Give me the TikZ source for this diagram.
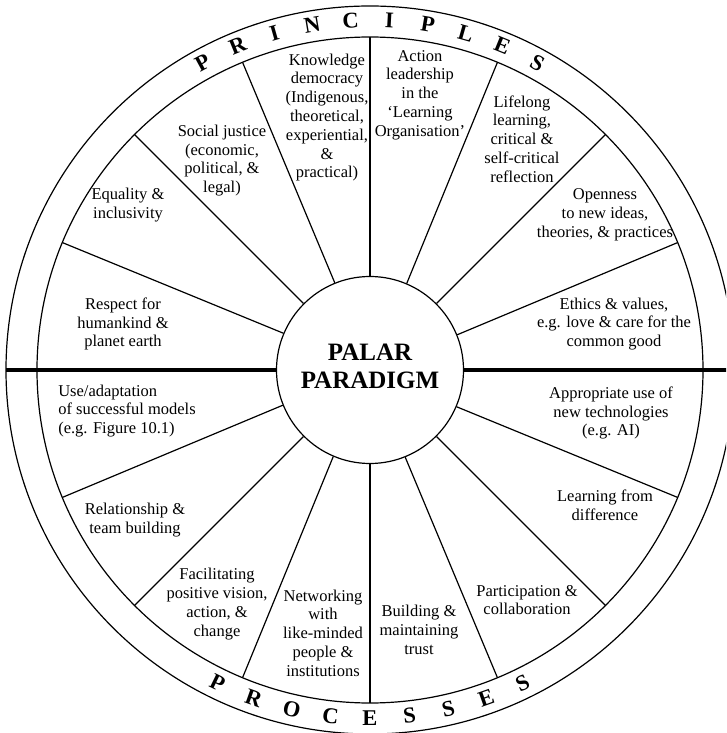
\documentclass[tikz,border=0pt]{standalone}
\usepackage{fontspec}
\setmainfont{Liberation Serif}
\begin{document}
\begin{tikzpicture}[x=1pt,y=1pt,
  feld/.style={align=center,inner sep=0pt,font=\fontsize{16.5}{18.8}\selectfont},
  ringtext/.style={inner sep=0pt,font=\fontsize{22.5}{22.5}\selectfont\bfseries},
  titel/.style={align=center,inner sep=0pt,font=\fontsize{25}{28}\selectfont\bfseries}]
  \clip (-370,-363) rectangle (356,370);
  % Kreise
  \draw[line width=1.2] (0,0) circle (364);
  \draw[line width=1.2] (0,0) circle (333);
  \node[circle,draw,line width=1.2,minimum size=187,inner sep=0pt] (mitte) at (0,0) {};
  \node[titel] (paradigma) at (0,4) {PALAR\\PARADIGM};
  % Speichen
  \foreach \w in {22.5,45,67.5,90,112.5,135,157.5,202.5,225,247.5,270,292.5,315,337.5}
    \draw[line width=1.2] (mitte.\w) -- (\w:333);
  % Trennlinie
  \draw[line width=4] (mitte.west) -- (180:364);
  \draw[line width=4] (mitte.east) -- (0:364);
  % Ring: Prinzipien und Prozesse
  \foreach \b [count=\i] in {P,R,I,N,C,I,P,L,E,S}
    \node[ringtext,rotate={(5.5-\i)*6.35}] (oben\i) at ({90+(5.5-\i)*6.35}:350) {\b};
  \foreach \b [count=\i] in {P,R,O,C,E,S,S,E,S}
    \node[ringtext,rotate={(\i-5)*6.5}] (unten\i) at ({270+(\i-5)*6.5}:348) {\b};
  % Prinzipien
  \node[feld] (respekt) at (-247,46) {Respect for\\humankind \&\\planet earth};
  \node[feld] (gleichheit) at (-242,165) {Equality \&\\inclusivity};
  \node[feld] (gerechtigkeit) at (-148,209.5) {Social justice\\(economic,\\political, \&\\legal)};
  \node[feld] (wissen) at (-43,252.5) {Knowledge\\democracy\\(Indigenous,\\theoretical,\\experiential,\\\&\\practical)};
  \node[feld] (fuehrung) at (50,275) {Action\\leadership\\in the\\‘Learning\\Organisation’};
  \node[feld] (lernen) at (152,231) {Lifelong\\learning,\\critical \&\\self-critical\\reflection};
  \node[feld] (offenheit) at (235,155) {Openness\\to new ideas,\\theories, \& practices};
  \node[feld] (ethik) at (244,46) {Ethics \& values,\\e.g. love \& care for the\\common good};
  % Prozesse
  \node[feld,align=left] (modelle) at (-243,-41) {Use/adaptation\\of successful models\\(e.g. Figure 10.1)};
  \node[feld] (team) at (-235,-150) {Relationship \&\\team building};
  \node[feld] (vision) at (-153,-234) {Facilitating\\positive vision,\\action, \&\\change};
  \node[feld] (netzwerk) at (-47,-263) {Networking\\with\\like-minded\\people \&\\institutions};
  \node[feld] (vertrauen) at (49,-260) {Building \&\\maintaining\\trust};
  \node[feld] (teilhabe) at (157,-230) {Participation \&\\collaboration};
  \node[feld] (differenz) at (235,-135) {Learning from\\difference};
  \node[feld] (technik) at (241,-43) {Appropriate use of\\new technologies\\(e.g. AI)};
\end{tikzpicture}
\end{document}
